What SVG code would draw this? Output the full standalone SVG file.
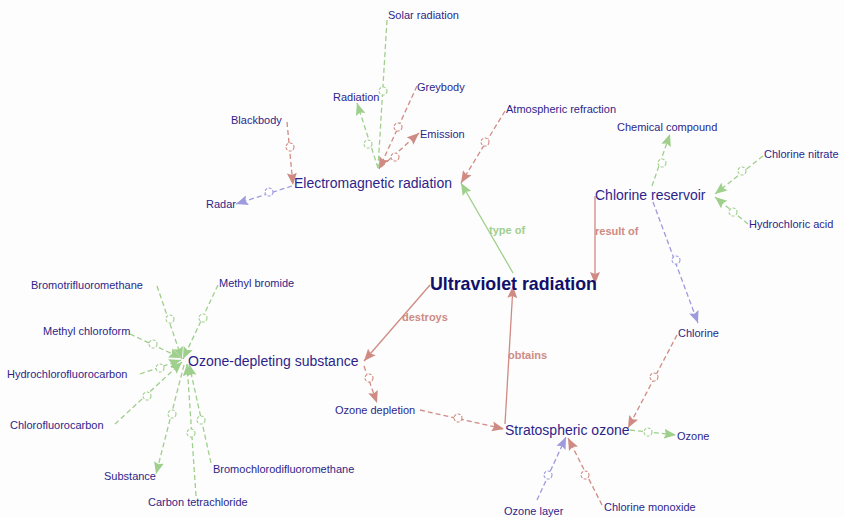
<svg xmlns="http://www.w3.org/2000/svg" width="844" height="517" viewBox="0 0 844 517">
<defs>
<style>
.bg{fill:#fdfdfd}
.t{font-family:"Liberation Sans",Arial,sans-serif;font-size:11px;fill:#2e1f8a}
.m{font-size:14px}
.uv{font-family:"Liberation Sans",Arial,sans-serif;font-size:17.8px;font-weight:bold;fill:#10106a}
.el{font-family:"Liberation Sans",Arial,sans-serif;font-size:11px;font-weight:bold}
.g{stroke:#9fcf8c;fill:none;stroke-width:1.3}
.r{stroke:#cf8b83;fill:none;stroke-width:1.3}
.p{stroke:#9d9ade;fill:none;stroke-width:1.3}
.d{stroke-dasharray:5,3}
.c{fill:#fff;stroke-width:1.1;stroke-dasharray:3,1.5}
.ga{marker-end:url(#ag)}
.ra{marker-end:url(#ar)}
.pa{marker-end:url(#ap)}
</style>
<marker id="ag" markerUnits="userSpaceOnUse" markerWidth="13" markerHeight="11" refX="12" refY="5.5" orient="auto"><path d="M0,0.5 L12,5.5 L0,10.5 L2,5.5 z" fill="#9fcf8c"/></marker>
<marker id="ar" markerUnits="userSpaceOnUse" markerWidth="13" markerHeight="11" refX="12" refY="5.5" orient="auto"><path d="M0,0.5 L12,5.5 L0,10.5 L2,5.5 z" fill="#cf8b83"/></marker>
<marker id="ap" markerUnits="userSpaceOnUse" markerWidth="13" markerHeight="11" refX="12" refY="5.5" orient="auto"><path d="M0,0.5 L12,5.5 L0,10.5 L2,5.5 z" fill="#9d9ade"/></marker>
</defs>
<rect class="bg" x="0" y="0" width="844" height="517"/>
<g id="connectors">
<path class="g d" d="M387,20 L378,168"/>
<path class="g d ga" d="M378,168 L357,103"/>
<path class="g d ga" d="M652,186 L670,134"/>
<path class="g d ga" d="M763,156 L715,194"/>
<path class="g d ga" d="M748,224 L715,197"/>
<path class="g d ga" d="M630,430 L676,435"/>
<path class="g d ga" d="M157,286 L182,359"/>
<path class="g d ga" d="M218,285 L183,359"/>
<path class="g d ga" d="M130,334 L181,358"/>
<path class="g d ga" d="M140,374 L181,360"/>
<path class="g d ga" d="M115,424 L182,362"/>
<path class="g d ga" d="M196,496 L187,364"/>
<path class="g d ga" d="M211,463 L189,364"/>
<path class="g d ga" d="M184,365 L156,474"/>
<path class="r d ra" d="M417,86 L379,169"/>
<path class="r d ra" d="M381,167 L419,133"/>
<path class="r d ra" d="M287,122 L293,185"/>
<path class="r d ra" d="M505,111 L461,183"/>
<path class="r d ra" d="M677,335 L628,428"/>
<path class="r d ra" d="M364,366 L377,403"/>
<path class="r d ra" d="M420,410 L504,429"/>
<path class="r d ra" d="M602,505 L568,438"/>
<path class="p d pa" d="M292,186 L236,204"/>
<path class="p d pa" d="M653,202 L698,323"/>
<path class="p d pa" d="M537,500 L566,437"/>
<path class="g ga" d="M513,273 L461,183"/>
<path class="r ra" d="M595,196 L595,284"/>
<path class="r ra" d="M430,285 L364,361"/>
<path class="r ra" d="M505,424 L513,286"/>
<circle class="c" cx="383" cy="91" r="4" stroke="#9fcf8c"/>
<circle class="c" cx="368" cy="144" r="4" stroke="#9fcf8c"/>
<circle class="c" cx="398" cy="127" r="4" stroke="#cf8b83"/>
<circle class="c" cx="395" cy="157" r="4" stroke="#cf8b83"/>
<circle class="c" cx="290" cy="147" r="4" stroke="#cf8b83"/>
<circle class="c" cx="269" cy="192" r="4" stroke="#9d9ade"/>
<circle class="c" cx="485" cy="142" r="4" stroke="#cf8b83"/>
<circle class="c" cx="662" cy="163" r="4" stroke="#9fcf8c"/>
<circle class="c" cx="742" cy="171" r="4" stroke="#9fcf8c"/>
<circle class="c" cx="733" cy="212" r="4" stroke="#9fcf8c"/>
<circle class="c" cx="676" cy="260" r="4" stroke="#9d9ade"/>
<circle class="c" cx="654" cy="377" r="4" stroke="#cf8b83"/>
<circle class="c" cx="648" cy="432" r="4" stroke="#9fcf8c"/>
<circle class="c" cx="548" cy="475" r="4" stroke="#9d9ade"/>
<circle class="c" cx="585" cy="475" r="4" stroke="#cf8b83"/>
<circle class="c" cx="369" cy="378" r="4" stroke="#cf8b83"/>
<circle class="c" cx="458" cy="418" r="4" stroke="#cf8b83"/>
<circle class="c" cx="170" cy="319" r="4" stroke="#9fcf8c"/>
<circle class="c" cx="203" cy="318" r="4" stroke="#9fcf8c"/>
<circle class="c" cx="153" cy="344" r="4" stroke="#9fcf8c"/>
<circle class="c" cx="160" cy="368" r="4" stroke="#9fcf8c"/>
<circle class="c" cx="147" cy="396" r="4" stroke="#9fcf8c"/>
<circle class="c" cx="172" cy="414" r="4" stroke="#9fcf8c"/>
<circle class="c" cx="191" cy="433" r="4" stroke="#9fcf8c"/>
<circle class="c" cx="201" cy="420" r="4" stroke="#9fcf8c"/>
<text class="el" x="489" y="234" fill="#9fcf8c">type of</text>
<text class="el" x="595" y="235" fill="#cf8b83">result of</text>
<text class="el" x="402" y="321" fill="#cf8b83">destroys</text>
<text class="el" x="508" y="359" fill="#cf8b83">obtains</text>
</g>
<g id="n-solar"><text class="t" x="388" y="19">Solar radiation</text></g>
<g id="n-radiation"><text class="t" x="333" y="101">Radiation</text></g>
<g id="n-greybody"><text class="t" x="417" y="91">Greybody</text></g>
<g id="n-emission"><text class="t" x="420" y="138">Emission</text></g>
<g id="n-blackbody"><text class="t" x="231" y="124">Blackbody</text></g>
<g id="n-radar"><text class="t" x="206" y="208">Radar</text></g>
<g id="n-em"><text class="t m" x="294" y="188">Electromagnetic radiation</text></g>
<g id="n-atmref"><text class="t" x="506" y="113">Atmospheric refraction</text></g>
<g id="n-chemcomp"><text class="t" x="617" y="131">Chemical compound</text></g>
<g id="n-clnitrate"><text class="t" x="764" y="158">Chlorine nitrate</text></g>
<g id="n-clreservoir"><text class="t m" x="595" y="200">Chlorine reservoir</text></g>
<g id="n-hcl"><text class="t" x="749" y="228">Hydrochloric acid</text></g>
<g id="n-uv"><text class="uv" x="430" y="290">Ultraviolet radiation</text></g>
<g id="n-chlorine"><text class="t" x="678" y="337">Chlorine</text></g>
<g id="n-ods"><text class="t m" x="188" y="366">Ozone-depleting substance</text></g>
<g id="n-ozdepletion"><text class="t" x="335" y="414">Ozone depletion</text></g>
<g id="n-stratoz"><text class="t m" x="505" y="435">Stratospheric ozone</text></g>
<g id="n-ozone"><text class="t" x="677" y="440">Ozone</text></g>
<g id="n-ozlayer"><text class="t" x="504" y="515">Ozone layer</text></g>
<g id="n-clmonoxide"><text class="t" x="604" y="511">Chlorine monoxide</text></g>
<g id="n-bromotri"><text class="t" x="31" y="289">Bromotrifluoromethane</text></g>
<g id="n-methylbromide"><text class="t" x="219" y="287">Methyl bromide</text></g>
<g id="n-methylchloroform"><text class="t" x="43" y="335">Methyl chloroform</text></g>
<g id="n-hcfc"><text class="t" x="7" y="378">Hydrochlorofluorocarbon</text></g>
<g id="n-cfc"><text class="t" x="10" y="429">Chlorofluorocarbon</text></g>
<g id="n-substance"><text class="t" x="104" y="480">Substance</text></g>
<g id="n-ccl4"><text class="t" x="148" y="506">Carbon tetrachloride</text></g>
<g id="n-bromochloro"><text class="t" x="213" y="473">Bromochlorodifluoromethane</text></g>
</svg>
